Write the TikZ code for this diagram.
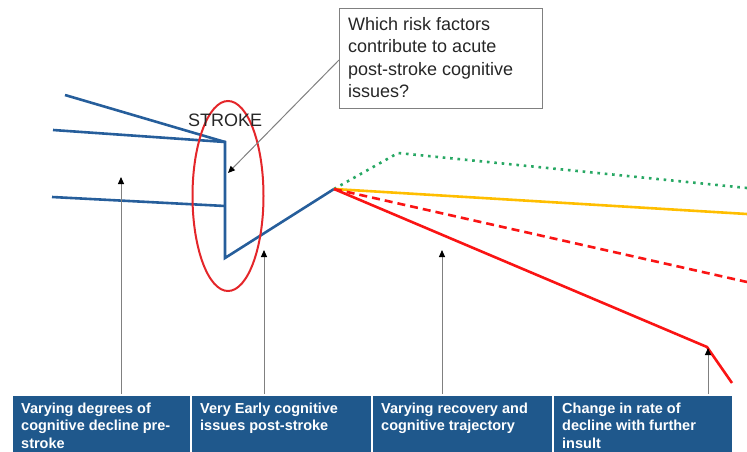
\documentclass[tikz,border=0pt]{standalone}
\usepackage{fontspec}
\setmainfont{Liberation Sans}
\usetikzlibrary{arrows.meta,shapes.geometric}
\definecolor{lineblue}{RGB}{38,94,155}
\definecolor{barblue}{RGB}{31,88,140}
\definecolor{ellred}{RGB}{228,38,42}
\definecolor{trred}{RGB}{250,20,20}
\definecolor{trgreen}{RGB}{40,168,100}
\definecolor{trorange}{RGB}{255,190,0}
\definecolor{arrgray}{RGB}{128,128,128}
\definecolor{txtgray}{RGB}{38,38,38}
\begin{document}
\begin{tikzpicture}[x=1pt,y=-1pt,
  blueline/.style={draw=lineblue,line width=2.6pt,line join=miter},
  uparrow/.style={draw=arrgray,line width=1pt,-{Triangle[length=7pt,width=6pt,color=black]}},
  cell/.style={fill=barblue,draw=white,line width=1.5pt,anchor=north west,minimum height=62pt,inner sep=0pt},
  celltext/.style={anchor=north west,align=left,inner sep=0pt,text=white,font=\fontsize{14.5}{17.5}\selectfont\bfseries},
]
\useasboundingbox (0,0) rectangle (747,452);
% coordinates of the curves
\coordinate (b1) at (65,95);
\coordinate (b2) at (53,130);
\coordinate (b3) at (52,197);
\coordinate (top) at (225,142);
\coordinate (mid) at (225,206);
\coordinate (bot) at (225,258);
\coordinate (peak) at (334,189);
\coordinate (gk) at (398,153);
\coordinate (ge) at (747,188);
\coordinate (oe) at (747,214);
\coordinate (rde) at (747,282);
\coordinate (rk) at (707,347);
\coordinate (re) at (732,383);
% blue lines
\draw[blueline] (b1) -- (top);
\draw[blueline] (b2) -- (top) -- (bot) -- (peak);
\draw[blueline] (b3) -- (mid);
% trajectories
\draw[draw=trgreen,line width=2.6pt,dash pattern=on 2.6pt off 4.8pt] (peak) -- (gk) -- (ge);
\draw[draw=trorange,line width=2.6pt] (peak) -- (oe);
\draw[draw=trred,line width=2.6pt,dash pattern=on 8pt off 5pt] (peak) -- (rde);
\draw[draw=trred,line width=2.6pt,line join=miter] (peak) -- (rk) -- (re);
% stroke ellipse
\node[ellipse,draw=ellred,line width=2pt,minimum width=71pt,minimum height=190pt,inner sep=0pt] (ell) at (228,196) {};
\node[anchor=base west,inner sep=0pt,text=txtgray,font=\fontsize{18}{20}\selectfont] (stroke) at (188,126) {STROKE};
% callout
\node[draw=arrgray,line width=1pt,anchor=north west,minimum width=203pt,minimum height=100pt,inner sep=0pt] (q) at (339,8) {};
\node[anchor=north west,align=left,inner sep=0pt,text=txtgray,font=\fontsize{18}{22.2}\selectfont] (qt) at (348,17.5) {Which risk factors\\contribute to acute\\post-stroke cognitive\\issues?};
\coordinate (qs) at (339,60);
\coordinate (qe) at (228,173);
\draw[draw=arrgray,line width=1pt,-{Triangle[length=7pt,width=6pt,color=black]}] (qs) -- (qe);
% bottom bar
\node[cell,minimum width=179pt] (c1) at (11,394) {};
\node[cell,minimum width=181pt] (c2) at (190,394) {};
\node[cell,minimum width=181pt] (c3) at (371,394) {};
\node[cell,minimum width=180pt] (c4) at (552,394) {};
\node[celltext] (t1) at (21,402.5) {Varying degrees of\\cognitive decline pre-\\stroke};
\node[celltext] (t2) at (200,402.5) {Very Early cognitive\\issues post-stroke};
\node[celltext] (t3) at (381,402.5) {Varying recovery and\\cognitive trajectory};
\node[celltext] (t4) at (562,402.5) {Change in rate of\\decline with further\\insult};
% arrows
\coordinate (a1) at (121,177);
\coordinate (a2) at (264,250);
\coordinate (a3) at (442,250);
\coordinate (a4) at (708,348);
\draw[uparrow] (c1.north west -| a1) -- (a1);
\draw[uparrow] (c2.north west -| a2) -- (a2);
\draw[uparrow] (c3.north west -| a3) -- (a3);
\draw[uparrow] (c4.north west -| a4) -- (a4);
\end{tikzpicture}
\end{document}
